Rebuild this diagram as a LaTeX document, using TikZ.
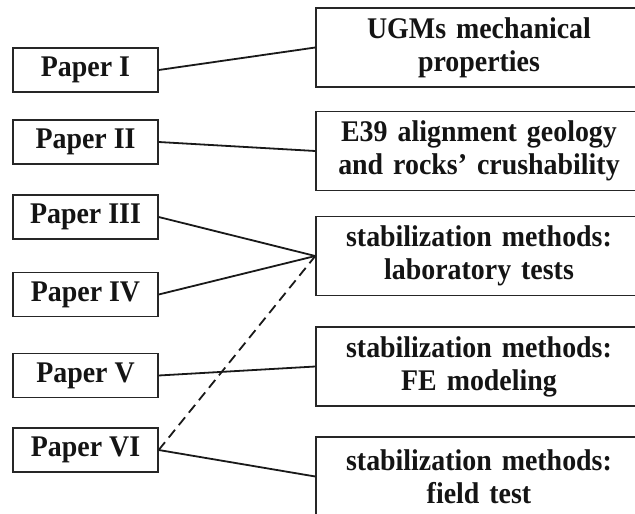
\documentclass[tikz,border=0pt]{standalone}
\usepackage{fontspec}
\setmainfont[FakeStretch=0.93]{Liberation Serif}
\begin{document}
\begin{tikzpicture}[x=1pt,y=-1pt,
  paperbox/.style={draw=black!85, line width=1.4pt, minimum width=145pt, minimum height=44pt, inner sep=0pt, text=black!92, font=\bfseries\fontsize{30}{33}\selectfont},
  topicbox/.style={draw=black!85, line width=1.4pt, minimum width=326pt, minimum height=79pt, inner sep=0pt, text width=320pt, align=center, text=black!92, font=\bfseries\fontsize{30}{33}\selectfont},
  link/.style={draw=black!90, line width=1.8pt},
  dlink/.style={draw=black!90, line width=1.8pt, dashed, dash pattern=on 10pt off 6pt}]
\useasboundingbox (0,0) rectangle (635,514);
\clip (0,0) rectangle (635,514);
\node[paperbox] (p1) at (85.5,70) {Paper I};
\node[paperbox] (p2) at (85.5,142) {Paper II};
\node[paperbox] (p3) at (85.5,217) {Paper III};
\node[paperbox] (p4) at (85.5,294.5) {Paper IV};
\node[paperbox] (p5) at (85.5,375.5) {Paper V};
\node[paperbox] (p6) at (85.5,450) {Paper VI};
\node[topicbox] (r1) at (479,47.5) {UGMs mechanical\\properties};
\node[topicbox] (r2) at (479,151) {E39 alignment geology\\and rocks’ crushability};
\node[topicbox] (r3) at (479,256) {stabilization methods:\\laboratory tests};
\node[topicbox] (r4) at (479,366.5) {stabilization methods:\\FE modeling};
\node[topicbox] (r5) at (479,476.5) {stabilization methods:\\field test};
\draw[link] (p1.east) -- (r1.west);
\draw[link] (p2.east) -- (r2.west);
\draw[link] (p3.east) -- (r3.west);
\draw[link] (p4.east) -- (r3.west);
\draw[link] (p5.east) -- (r4.west);
\draw[link] (p6.east) -- (r5.west);
\draw[dlink] (p6.east) -- (r3.west);
\end{tikzpicture}
\end{document}
